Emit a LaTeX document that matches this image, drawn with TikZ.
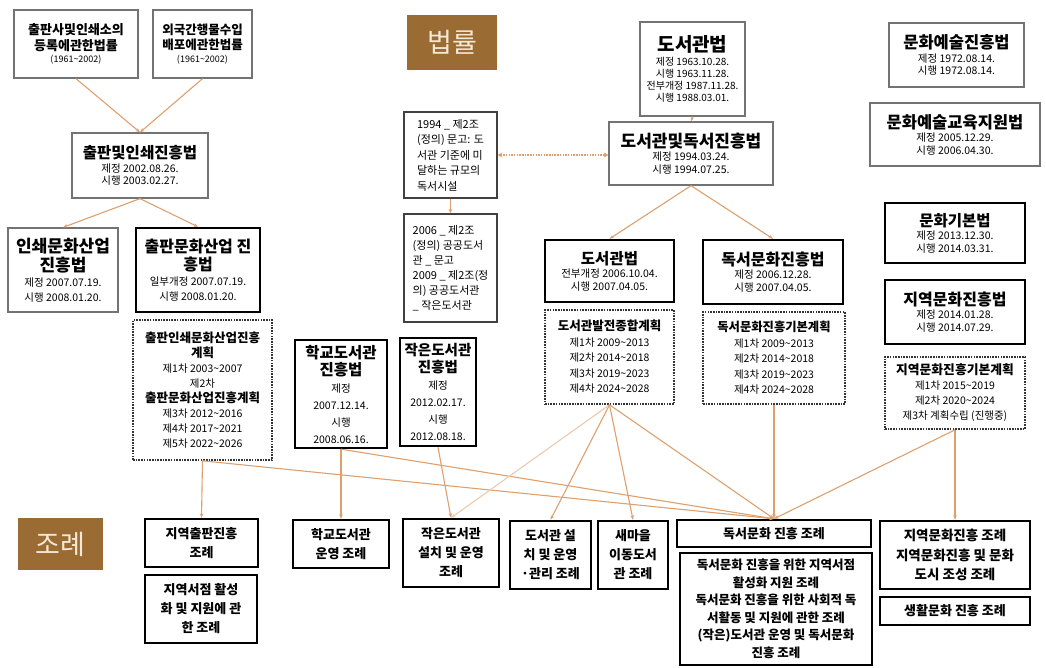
\documentclass[tikz,border=0pt]{standalone}
\usepackage{fontspec}
\setmainfont{Noto Sans CJK KR}
\usetikzlibrary{arrows.meta}
\definecolor{brn}{HTML}{9B6B34}
\definecolor{crm}{HTML}{F5E9D6}
\definecolor{lnc}{HTML}{DDA06E}
\newcommand\Hd[2]{{\fontsize{#1}{#1}\selectfont\bfseries #2}}
\newcommand\tld{\textasciitilde}
\begin{document}
\begin{tikzpicture}[x=1pt,y=-1pt,
  box/.style={draw, inner sep=1pt, align=center, text=black, font=\fontsize{10.5}{12.5}\selectfont},
  gbox/.style={box, draw=black!55, line width=1.3pt},
  kbox/.style={box, draw=black, line width=2.4pt},
  dbox/.style={box, draw=black!80, line width=1.6pt, dash pattern=on 1.6pt off 1.1pt},
  bot/.style={kbox, font=\fontsize{13}{19}\selectfont\bfseries},
  lab/.style={fill=brn, text=crm, inner sep=0pt, font=\fontsize{27}{27}\selectfont},
  conn/.style={draw=lnc, line width=1.1pt, -{Stealth[length=4.5pt,width=3.5pt]}}]
\useasboundingbox (0,0) rectangle (1046,667);
\fill[white] (0,0) rectangle (1046,667);

% labels
\node[lab, minimum width=90, minimum height=55] (law) at (452,42.5) {법률};
\node[lab, minimum width=85, minimum height=52] (ord) at (60.5,544) {조례};

% publishing column
\node[gbox, minimum width=124, minimum height=68] (A) at (76,44) {\Hd{13}{출판사및인쇄소의}\\[3pt]\Hd{13}{등록에관한법률}\\{\fontsize{9}{10}\selectfont (1961\tld2002)}};
\node[gbox, minimum width=99, minimum height=68] (B) at (202.5,44) {\Hd{12.5}{외국간행물수입}\\[3pt]\Hd{12.5}{배포에관한법률}\\{\fontsize{9}{10}\selectfont (1961\tld2002)}};
\node[gbox, minimum width=136, minimum height=65] (C) at (140,165.5) {\Hd{15.5}{출판및인쇄진흥법}\\[1pt]제정 2002.08.26.\\시행 2003.02.27.};
\node[gbox, minimum width=110, minimum height=84, font=\fontsize{10.5}{15}\selectfont] (D) at (63,270) {\Hd{17}{인쇄문화산업}\\[2pt]\Hd{17}{진흥법}\\제정 2007.07.19.\\시행 2008.01.20.};
\node[kbox, minimum width=124, minimum height=84, font=\fontsize{10.5}{15}\selectfont] (E) at (198,270) {\Hd{16}{출판문화산업 진}\\[2pt]\Hd{16}{흥법}\\일부개정 2007.07.19.\\시행 2008.01.20.};
\node[dbox, minimum width=139, minimum height=140, font=\fontsize{10.5}{15}\selectfont] (F) at (202.5,390) {\Hd{12.5}{출판인쇄문화산업진흥}\\\Hd{12.5}{계획}\\제1차 2003\tld2007\\제2차\\\Hd{12.5}{출판문화산업진흥계획}\\제3차 2012\tld2016\\제4차 2017\tld2021\\제5차 2022\tld2026};

% library column
\node[kbox, minimum width=92, minimum height=108, font=\fontsize{10.5}{17}\selectfont] (G) at (341,394) {\Hd{15.5}{학교도서관}\\\Hd{15.5}{진흥법}\\제정\\2007.12.14.\\시행\\2008.06.16.};
\node[kbox, minimum width=76, minimum height=108, font=\fontsize{10.5}{17}\selectfont] (H) at (438,392) {\Hd{14.5}{작은도서관}\\\Hd{14.5}{진흥법}\\제정\\2012.02.17.\\시행\\2012.08.18.};
\node[gbox, draw=black!75, minimum width=93, minimum height=86, align=left, font=\fontsize{11}{15.5}\selectfont] (I) at (450.5,155) {1994 \_ 제2조\\(정의) 문고: 도\\서관 기준에 미\\달하는 규모의\\독서시설};
\node[gbox, draw=black!75, minimum width=93, minimum height=108, align=left, font=\fontsize{11}{15}\selectfont] (J) at (450.5,268) {2006 \_ 제2조\\(정의) 공공도서\\관 \_ 문고\\2009 \_ 제2조(정\\의) 공공도서관\\\_ 작은도서관};
\node[gbox, minimum width=105, minimum height=94, font=\fontsize{10}{12}\selectfont] (K) at (692.5,69) {\Hd{19}{도서관법}\\[2pt]제정 1963.10.28.\\시행 1963.11.28.\\전부개정 1987.11.28.\\시행 1988.03.01.};
\node[gbox, minimum width=164, minimum height=63] (L) at (691,153.5) {\Hd{17}{도서관및독서진흥법}\\[1pt]제정 1994.03.24.\\시행 1994.07.25.};
\node[kbox, minimum width=129, minimum height=62] (M) at (609.5,271) {\Hd{15.5}{도서관법}\\[1pt]전부개정 2006.10.04.\\시행 2007.04.05.};
\node[dbox, minimum width=129, minimum height=94, font=\fontsize{10.5}{15.5}\selectfont] (N) at (609.5,357) {\Hd{12.5}{도서관발전종합계획}\\제1차 2009\tld2013\\제2차 2014\tld2018\\제3차 2019\tld2023\\제4차 2024\tld2028};
\node[kbox, minimum width=140, minimum height=64] (O) at (773,272) {\Hd{16}{독서문화진흥법}\\[1pt]제정 2006.12.28.\\시행 2007.04.05.};
\node[dbox, minimum width=142, minimum height=92, font=\fontsize{10.5}{15.5}\selectfont] (P) at (774,358) {\Hd{12.3}{독서문화진흥기본계획}\\제1차 2009\tld2013\\제2차 2014\tld2018\\제3차 2019\tld2023\\제4차 2024\tld2028};

% culture column
\node[gbox, minimum width=135, minimum height=64] (Q) at (956.5,55) {\Hd{16.5}{문화예술진흥법}\\[1pt]제정 1972.08.14.\\시행 1972.08.14.};
\node[gbox, minimum width=170, minimum height=63] (R) at (955,134.5) {\Hd{16.5}{문화예술교육지원법}\\[1pt]제정 2005.12.29.\\시행 2006.04.30.};
\node[kbox, minimum width=140, minimum height=60] (S) at (955,233) {\Hd{15.5}{문화기본법}\\[1pt]제정 2013.12.30.\\시행 2014.03.31.};
\node[kbox, minimum width=140, minimum height=64] (T) at (955,312) {\Hd{16}{지역문화진흥법}\\[1pt]제정 2014.01.28.\\시행 2014.07.29.};
\node[dbox, minimum width=140, minimum height=72, font=\fontsize{10.5}{15}\selectfont] (U) at (955,393) {\Hd{12.8}{지역문화진흥기본계획}\\제1차 2015\tld2019\\제2차 2020\tld2024\\제3차 계획수립 (진행중)};

% ordinances
\node[bot, minimum width=113, minimum height=48] (b1) at (201.5,543) {지역출판진흥\\조례};
\node[bot, minimum width=112, minimum height=68] (b2) at (201,609) {지역서점 활성\\화 및 지원에 관\\한 조례};
\node[bot, minimum width=96, minimum height=48] (b3) at (341,544) {학교도서관\\운영 조례};
\node[bot, minimum width=96, minimum height=68] (b4) at (451,553) {작은도서관\\설치 및 운영\\조례};
\node[bot, minimum width=81, minimum height=68] (b5) at (550.5,555) {도서관 설\\치 및 운영\\·관리 조례};
\node[bot, minimum width=70, minimum height=68] (b6) at (633,555) {새마을\\이동도서\\관 조례};
\node[bot, minimum width=194, minimum height=27, font=\fontsize{13}{14}\selectfont\bfseries] (b7) at (774,533.5) {독서문화 진흥 조례};
\node[bot, minimum width=192, minimum height=112, font=\fontsize{12.5}{17.5}\selectfont\bfseries] (b8) at (776,609) {독서문화 진흥을 위한 지역서점\\활성화 지원 조례\\독서문화 진흥을 위한 사회적 독\\서활동 및 지원에 관한 조례\\(작은)도서관 운영 및 독서문화\\진흥 조례};
\node[bot, minimum width=150, minimum height=68, font=\fontsize{13.5}{19.5}\selectfont\bfseries] (b9) at (955,555) {지역문화진흥 조례\\지역문화진흥 및 문화\\도시 조성 조례};
\node[bot, minimum width=150, minimum height=28, font=\fontsize{13}{14}\selectfont\bfseries] (b10) at (955,611) {생활문화 진흥 조례};

% connectors
\draw[conn] (A.south) -- (C.north);
\draw[conn] (B.south) -- (C.north);
\draw[conn] (C.south) -- (D.north);
\draw[conn] (C.south) -- (E.north);
\draw[conn] (F.south) -- (b1.north);
\draw[conn] (F.south) -- (b7.north);
\draw[conn] (G.south) -- (b3.north);
\draw[conn] (G.south) -- (b7.north);
\draw[conn] (H.south) -- (b4.north);
\draw[conn] (I.south) -- (J.north);
\draw[conn, line width=2.6pt, dash pattern=on 1.5pt off 1.2pt, {Stealth[length=4.5pt,width=5pt]}-{Stealth[length=4.5pt,width=5pt]}] (I.east) -- (I.east -| L.west);
\draw[conn] (K.south) -- (L.north);
\draw[conn] (L.south) -- (M.north);
\draw[conn] (L.south) -- (O.north);
\draw[conn, draw=lnc!55] (N.south) -- (b4.north);
\draw[conn] (N.south) -- (b5.north);
\draw[conn] (N.south) -- (b6.north);
\draw[conn] (N.south) -- (b7.north);
\draw[conn] (P.south) -- (b7.north);
\draw[conn] (U.south) -- (b7.north);
\draw[conn] (U.south) -- (b9.north);
\end{tikzpicture}
\end{document}
